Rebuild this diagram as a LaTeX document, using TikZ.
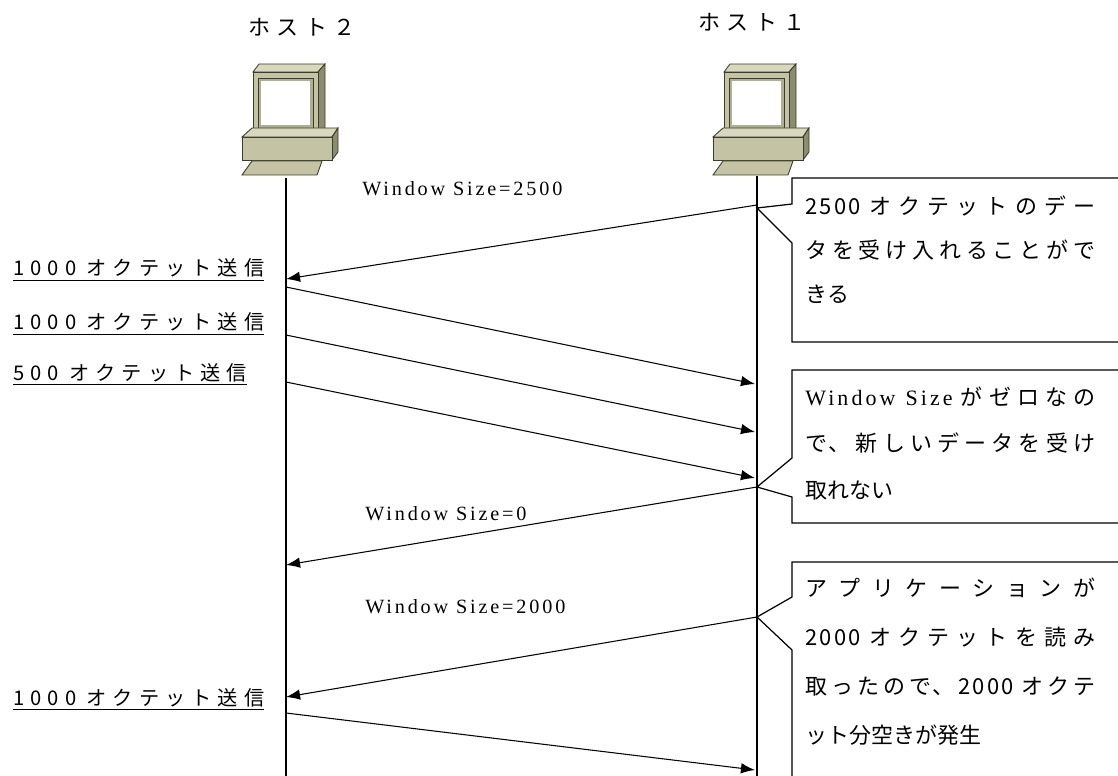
\documentclass[tikz,border=0pt]{standalone}
\usepackage{fontspec}
\setmainfont{Noto Sans CJK JP}
\newfontfamily\spacedfont{Noto Sans CJK JP}[LetterSpace=30]
\newfontfamily\notefont{Noto Sans CJK JP}[LetterSpace=10]
\newfontfamily\winfont{Liberation Serif}[LetterSpace=14]
\XeTeXlinebreaklocale "ja"
\XeTeXlinebreakskip=0pt plus 10pt
\tolerance=10000
\usetikzlibrary{arrows.meta,positioning}

\definecolor{pcface}{RGB}{196,196,164}
\definecolor{pctop}{RGB}{216,216,190}
\definecolor{pcside}{RGB}{140,140,110}
\definecolor{pcline}{RGB}{60,60,44}

\tikzset{
  msg/.style={-{Latex[length=8pt,width=6pt]}, line width=0.6pt},
  lifeline/.style={line width=0.7pt},
  note/.style={draw, fill=white, line width=0.7pt},
  notetext/.style={anchor=base west, inner sep=0pt, text width=5.8cm, align=justify,
    font=\notefont\fontsize{12.5}{#1}\selectfont},
  sendlabel/.style={anchor=base west, inner sep=0pt, font=\spacedfont\fontsize{11.5}{14}\selectfont},
  winlabel/.style={anchor=base west, inner sep=0pt, font=\winfont\fontsize{11.5}{13}\selectfont},
  hostlabel/.style={inner sep=0pt, font=\spacedfont\fontsize{12.5}{15}\selectfont},
  desktop/.pic={
    % monitor
    \filldraw[fill=pctop, draw=pcline, line width=0.5pt] (-33,8) -- (-27,0) -- (39,0) -- (32,8) -- cycle;
    \filldraw[fill=pcside, draw=pcline, line width=0.5pt] (32,8) -- (39,0) -- (39,64) -- (32,70) -- cycle;
    \filldraw[fill=pcface, draw=pcline, line width=0.5pt] (-33,8) rectangle (32,70);
    \filldraw[fill=pcside!70, draw=pcline, line width=0.4pt] (-28,14) rectangle (27,64);
    \fill[white] (-25,17) rectangle (24,61);
    % base
    \filldraw[fill=pctop, draw=pcline, line width=0.5pt] (-44,73) -- (-34,64) -- (52,64) -- (46,73) -- cycle;
    \filldraw[fill=pcside, draw=pcline, line width=0.5pt] (46,73) -- (52,64) -- (52,88) -- (46,96) -- cycle;
    \filldraw[fill=pcface, draw=pcline, line width=0.5pt] (-44,73) rectangle (46,96);
    % keyboard
    \filldraw[fill=pcface, draw=pcline, line width=0.5pt] (-44,111) -- (-34,97) -- (36,97) -- (31,111) -- cycle;
  }
}

\begin{document}
\begin{tikzpicture}[x=0.02cm,y=-0.02cm]
  \useasboundingbox (0,0) rectangle (1118,776);
  \clip (0,0) rectangle (1118,776);

  % hosts and lifelines
  \node[hostlabel] (host2) at (302,27) {ホスト２};
  \node[hostlabel] (host1) at (752,22) {ホスト１};
  \pic at (286,64) {desktop};
  \pic at (757,64) {desktop};
  \coordinate (top2) at (286,178);
  \coordinate (top1) at (757,176);
  \coordinate (bot2) at (286,776);
  \coordinate (bot1) at (757,776);
  \draw[lifeline] (top2) -- (bot2);
  \draw[lifeline] (top1) -- (bot1);

  % notes on host 1
  \coordinate (tipA) at (757,208);
  \coordinate (tipB) at (757,487);
  \coordinate (tipC) at (757,617);
  \draw[note] (792,178) -- (1130,178) -- (1130,342) -- (792,342) -- (792,243)
    -- (tipA) -- (792,204) -- cycle;
  \draw[note] (792,370) -- (1130,370) -- (1130,523) -- (792,523) -- (792,497)
    -- (tipB) -- (792,458) -- cycle;
  \draw[note] (792,562) -- (1130,562) -- (1130,790) -- (792,790) -- (792,650)
    -- (tipC) -- (792,597) -- cycle;
  \node[notetext=25pt] (noteA) at (805,215)
    {2500 オクテットのデー\linebreak タを受け入れることがで\linebreak きる};
  \node[notetext=26.7pt] (noteB) at (805,405)
    {{\winfont Window Size} がゼロなの\linebreak で、新しいデータを受け\linebreak 取れない};
  \node[notetext=27.9pt] (noteC) at (805,596)
    {アプリケーションが\linebreak 2000 オクテットを読み\linebreak 取ったので、2000 オクテ\linebreak ット分空きが発生};

  % messages
  \coordinate (a1) at (757,205);  \coordinate (b1) at (286,279);
  \coordinate (b2) at (286,287);  \coordinate (a2) at (755,384);
  \coordinate (b3) at (286,335);  \coordinate (a3) at (755,432);
  \coordinate (b4) at (286,382);  \coordinate (a4) at (755,478);
  \coordinate (a5) at (757,487);  \coordinate (b5) at (286,565);
  \coordinate (a6) at (757,617);  \coordinate (b6) at (286,697);
  \coordinate (b7) at (286,713);  \coordinate (a7) at (755,770);
  \draw[msg] (a1) -- (b1);
  \draw[msg] (b2) -- (a2);
  \draw[msg] (b3) -- (a3);
  \draw[msg] (b4) -- (a4);
  \draw[msg] (a5) -- (b5);
  \draw[msg] (a6) -- (b6);
  \draw[msg] (b7) -- (a7);

  \node[winlabel] (win1) at (362,196) {Window Size=2500};
  \node[winlabel] (win2) at (365,520) {Window Size=0};
  \node[winlabel] (win3) at (365,613) {Window Size=2000};

  % sends from host 2
  \node[sendlabel] (send1) at (13,276) {\underline{1000 オクテット送信}};
  \node[sendlabel] (send2) at (13,330) {\underline{1000 オクテット送信}};
  \node[sendlabel] (send3) at (13,380) {\underline{500 オクテット送信}};
  \node[sendlabel] (send4) at (13,705) {\underline{1000 オクテット送信}};
\end{tikzpicture}
\end{document}
